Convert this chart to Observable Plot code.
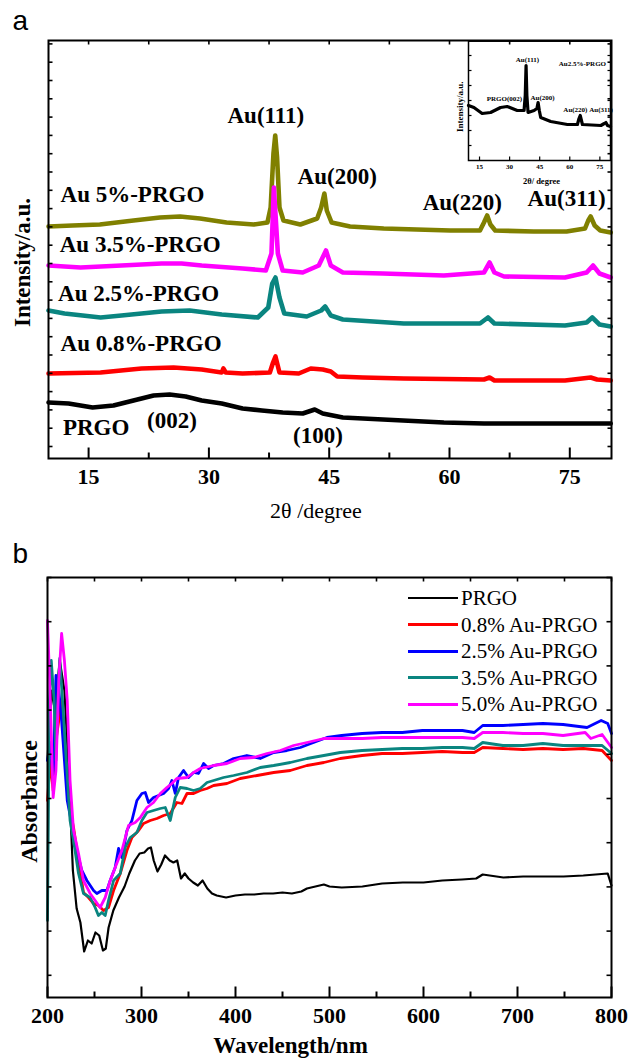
<!DOCTYPE html>
<html><head><meta charset="utf-8">
<script src="https://cdn.jsdelivr.net/npm/d3@7"></script>
<script src="https://cdn.jsdelivr.net/npm/@observablehq/plot@0.6"></script>
<style>
body{margin:0;background:#fff;}
#wrap{position:relative;width:630px;height:1059px;overflow:hidden;background:#fff;}
.pane{position:absolute;}
.lg{position:absolute;left:408px;height:26px;line-height:26px;display:flex;align-items:center;font-family:"Liberation Serif","Times New Roman",serif;font-size:21px;color:#000;white-space:nowrap;}
.lg span.sw{display:inline-block;width:50px;height:0;margin-right:3px;}
</style></head><body><div id="wrap"></div>
<script>
// ---------- Panel a: XRD (2θ in degrees, intensity in a.u.) ----------
const xrdSeries = ["Au 5%-PRGO","Au 3.5%-PRGO","Au 2.5%-PRGO","Au 0.8%-PRGO","PRGO"];
const xrdColors = ["#808000","#ff00ff","#0a8580","#ff0000","#000000"];
const xrd5 = [[10,232],[13,233],[16.4,234],[20.6,238],[23.9,241],[26.4,242],[28.9,240],[32.2,236],[35.6,234],[37.3,236],[37.7,251],[38.05,305],[38.27,323],[38.5,301],[38.8,251],[39.3,238],[41.4,234],[43.5,240],[44.0,251],[44.4,265],[44.7,248],[45.3,236],[47.6,232],[51.8,230],[55.9,229],[60.1,228],[63.8,228],[64.3,236],[64.7,243],[65.1,234],[65.7,228],[70.5,227],[74.6,227],[76.9,230],[77.3,238],[77.6,242],[78.1,233],[78.8,228],[80.1,226]];
const xrd35 = [[10,193],[14,191],[19.1,193],[24.1,195],[26.6,195],[29.1,193],[34.2,190],[37.1,188],[37.8,205],[38.1,271],[38.6,205],[39.2,188],[41.7,186],[43.7,193],[44.6,208],[45.2,193],[46.7,186],[51.7,185],[59.3,183],[64.3,186],[65.0,196],[65.6,186],[66.8,182],[74.4,181],[77.1,186],[77.9,193],[78.7,185],[80.1,181]];
const xrd25 = [[10,148],[12,145],[16.5,141],[19.1,143],[24.1,147],[27.6,148],[31.6,144],[36.1,141],[37.4,151],[37.9,175],[38.3,181],[38.8,161],[39.4,145],[42.2,142],[44.0,148],[44.5,152],[45.2,143],[46.7,139],[54.3,135],[63.8,135],[64.8,141],[65.6,135],[74.4,133],[77.1,136],[77.8,141],[78.7,134],[80.1,132]];
const xrd08 = [[10,85],[16.5,86],[21.6,90],[25.6,91],[29.1,89],[31.6,86],[31.8,90],[32.1,86],[34.2,85],[37.6,86],[38.0,96],[38.3,102],[38.8,86],[41.2,85],[42.7,90],[44.2,89],[45.2,87],[46.0,82],[49.2,81],[54.3,80],[64.3,79],[65.0,81],[65.6,78],[74.4,78],[77.6,81],[78.4,79],[80.1,78]];
const xrdPRGO = [[10,56],[12.5,55],[15.5,51],[18.1,53],[20.6,58],[23.1,63],[25.1,64],[27.1,62],[29.1,58],[31.6,55],[34.2,50],[36.6,48],[39.2,46],[41.7,45],[43.2,49],[44.2,45],[46.7,41],[49.2,40],[54.2,38],[59.3,36],[64.3,35],[69.3,35],[74.4,35],[80.1,35]];
const xrdTicks = [15,30,45,60,75];
const xrdMinor = [22.5,37.5,52.5,67.5];
const peakLabels = [
  {text:"Au(111)", t:37.1, i:343},
  {text:"Au(200)", t:46.0, i:282},
  {text:"Au(220)", t:61.6, i:256},
  {text:"Au(311)", t:74.6, i:260},
  {text:"(002)", t:25.4, i:38},
  {text:"(100)", t:43.6, i:23}
];
const sampleLabels = [
  {text:"Au 5%-PRGO", t:11.5, i:264},
  {text:"Au 3.5%-PRGO", t:11.4, i:214},
  {text:"Au 2.5%-PRGO", t:11.2, i:165},
  {text:"Au 0.8%-PRGO", t:11.5, i:115},
  {text:"PRGO", t:11.8, i:31}
];
// inset: Au 2.5%-PRGO
const insetTrace = [[9.5,55],[12.2,53],[16.3,47],[20.5,48],[25.5,53],[28.8,54],[33.8,50],[37.2,50],[37.8,65],[38.2,95],[38.6,65],[39.2,48],[42.2,50],[43.6,52],[44.2,58],[44.8,50],[45.5,43],[50.5,39],[58.8,36],[63.8,36],[64.6,42],[65.2,45],[66.3,36],[75.5,35],[77.2,37],[78.0,38],[78.8,35],[80.3,34]];
const insetLabels = [
  {text:"Au(111)", t:38.9, i:101},
  {text:"Au2.5%-PRGO", t:66.3, i:97},
  {text:"PRGO(002)", t:27.4, i:62},
  {text:"Au(200)", t:46.4, i:63},
  {text:"Au(220)", t:62.8, i:51},
  {text:"Au(311)", t:75.6, i:51}
];

// ---------- Panel b: UV-vis (wavelength nm, absorbance a.u.) ----------
const uvNames = ["PRGO","0.8% Au-PRGO","2.5% Au-PRGO","3.5% Au-PRGO","5.0% Au-PRGO"];
const uvColors = ["#000000","#ff0000","#0000ff","#0a8580","#ff00ff"];
const uvPRGO = [[200,237],[204,307],[208,287],[213,337],[218,307],[223,217],[227,127],[231,89],[235,75],[239,46],[243,57],[247,54],[251,65],[255,62],[259,47],[262,49],[265,70],[270,87],[276,100],[282,111],[287,124],[293,137],[298,144],[303,145],[307,149],[310,150],[313,137],[317,126],[321,133],[325,142],[330,137],[334,135],[338,137],[342,119],[346,124],[350,119],[355,115],[360,112],[365,117],[370,109],[375,104],[380,102],[390,100],[400,102],[410,103],[420,103],[430,104],[440,104],[450,105],[460,104],[470,106],[476,109],[485,111],[494,113],[500,111],[513,110],[535,111],[556,114],[578,115],[600,115],[620,117],[641,118],[656,119],[663,123],[685,120],[706,121],[727,121],[749,121],[770,122],[796,124],[800,112]];
const uv08 = [[200,197],[203,237],[206,207],[209,257],[212,277],[215,297],[218,257],[222,197],[227.7,170],[233,137],[238.3,105],[243.6,100],[249,94],[254.2,92],[259.6,87],[264.9,90],[270.3,107],[277.4,124],[284.5,147],[289.8,160],[296.9,167],[302.2,174],[309.3,177],[316.4,179],[323.5,182],[330.6,184],[337.6,195],[343,194],[348.4,204],[355.4,204],[362.5,207],[369.7,209],[376.7,212],[390.9,214],[405,219],[423,222],[440.6,225],[458.3,227],[476,232],[494,235],[511.5,239],[534.7,242],[556,244],[577.5,244],[598.8,245],[620,246],[641.5,245],[654,245],[663,250],[684.4,249],[706,248],[727,249],[748.5,248],[770,249],[790,247],[800,237]];
const uv25 = [[200,237],[203,255],[206,217],[209,322],[212,307],[215,277],[218,237],[221,197],[227.7,164],[231.2,147],[236.5,127],[241.9,117],[249,107],[252.5,104],[257.8,107],[263.2,107],[266.7,117],[272,130],[275.6,149],[279.1,140],[284.5,167],[289.8,177],[295.1,197],[300.4,204],[304,205],[307.5,195],[312.8,200],[318.2,202],[323.5,204],[328.8,209],[332.3,217],[335.9,204],[339.4,220],[344.7,227],[350,220],[355.4,225],[360.7,224],[366,234],[371.3,229],[376.7,232],[387.3,234],[398,239],[412.1,242],[426.3,239],[440.6,245],[454.7,247],[469,250],[483,255],[497.3,260],[513,262],[534.7,264],[556,265],[577.5,265],[598.8,267],[620,267],[641.5,267],[654,265],[663,272],[684.4,272],[706,273],[727,274],[748.5,273],[774,270],[789,277],[796,274],[800,264]];
const uv35 = [[200,77],[202,297],[204,337],[207,297],[209,237],[211,297],[213,339],[216,297],[220,237],[224,177],[227.7,157],[233,124],[238.3,104],[245.4,100],[250.7,90],[254.2,82],[257.8,85],[261.4,82],[264.9,97],[270.3,117],[277.4,124],[282.7,150],[288,160],[295.1,165],[300.4,177],[305.8,185],[312.8,187],[320,189],[325.3,190],[330.6,177],[335.9,200],[341.2,210],[348.4,209],[355.4,207],[362.5,209],[369.7,215],[376.7,217],[387.3,220],[398,222],[412.1,225],[426.3,230],[440.6,232],[458.3,235],[476,239],[494,242],[511.5,245],[534.7,247],[556,248],[577.5,249],[598.8,249],[620,250],[641.5,250],[654,249],[663,255],[684.4,252],[706,252],[727,254],[748.5,252],[770,252],[790,252],[800,244]];
const uv50 = [[200,377],[203,297],[206,200],[209,227],[212,317],[215,364],[218,337],[221,297],[224,217],[227.7,167],[233,144],[238.3,117],[245.4,104],[250.7,97],[256,90],[261.4,100],[266.7,117],[272,130],[279.1,147],[286.2,172],[293.3,175],[298.7,180],[305.8,190],[312.8,195],[320,204],[327,210],[332.3,214],[337.6,219],[348.4,220],[355.4,225],[362.5,229],[376.7,232],[390.9,234],[405,239],[419.3,240],[433.5,244],[447.7,247],[461.8,252],[476,255],[494,259],[513,259],[534.7,259],[556,260],[577.5,260],[598.8,260],[620,260],[641.5,260],[654,259],[663,265],[684.4,265],[706,264],[727,264],[748.5,262],[772,265],[778,259],[790,263],[800,250]];
const uvTicks = [200,300,400,500,600,700,800];
const uvMinor = [250,350,450,550,650,750];

// ---------- helpers ----------
const serif = '"Liberation Serif","Times New Roman",serif';
const sans = '"Liberation Sans",Arial,sans-serif';
const tickShape = (ux, uy) => ({draw(ctx, size){const l = Math.sqrt(size/Math.PI); ctx.moveTo(0,0); ctx.lineTo(ux*l, uy*l);}});
const UP = tickShape(0,-1), DOWN = tickShape(0,1), RIGHT = tickShape(1,0), LEFT = tickShape(-1,0);
const tk = (data, x, y, shape, len, sw=1.6) => Plot.dot(data, {x, y, symbol: shape, r: len, stroke:"black", fill:"none", strokeWidth: sw});
const rowsOf = (arrs, names) => arrs.flatMap((a,k) => a.map(([x,y]) => ({s:names[k], x, y})));

const wrap = document.getElementById("wrap");
function place(node, left, top){ const d = document.createElement("div"); d.className="pane"; d.style.left=left+"px"; d.style.top=top+"px"; d.appendChild(node); wrap.appendChild(d); }

// ---------- Plot A ----------
const xA = [10, 80.2], yA = [0, 418];
const xrdRows = rowsOf([xrd5, xrd35, xrd25, xrd08, xrdPRGO], xrdSeries);
const plotA = Plot.plot({
  width: 630, height: 530,
  marginLeft: 48, marginRight: 19, marginTop: 40, marginBottom: 72,
  style: {background:"transparent", fontFamily: serif, overflow:"visible"},
  x: {domain: xA},
  y: {domain: yA, axis: null},
  color: {domain: xrdSeries, range: xrdColors},
  marks: [
    ...xrdSeries.map(s => Plot.line(xrdRows.filter(d => d.s === s), {x:"x", y:"y", stroke:"s", strokeWidth: 4.6, strokeLinejoin:"round"})),
    Plot.frame({stroke:"black", strokeWidth: 2}),
    tk(xrdTicks, d=>d, ()=>yA[0], UP, 11, 2),
    tk(xrdMinor, d=>d, ()=>yA[0], UP, 6, 2),
    tk(xrdTicks.concat(xrdMinor), d=>d, ()=>yA[1], DOWN, 4),
    tk(d3.range(12, 418, 18.3), ()=>xA[0], d=>d, RIGHT, 4),
    tk(d3.range(12, 418, 18.3), ()=>xA[1], d=>d, LEFT, 4),
    Plot.axisX({ticks: xrdTicks, tickSize: 0, tickPadding: 10, label: null, fontSize: 22, fontWeight: "bold", fontFamily: serif, tickFormat: d => String(d)}),
    Plot.text(peakLabels, {x:"t", y:"i", text:"text", fontSize: 23, fontWeight:"bold", fontFamily: serif, lineAnchor:"middle"}),
    Plot.text(sampleLabels, {x:"t", y:"i", text:"text", textAnchor:"start", fontSize: 23, fontWeight:"bold", fontFamily: serif, lineAnchor:"middle"}),
    Plot.text(["2θ /degree"], {frameAnchor:"bottom", dx:-14, dy:52, textAnchor:"middle", lineAnchor:"middle", fontSize: 22, fontFamily: serif}),
    Plot.text(["Intensity/a.u."], {frameAnchor:"left", dx:-26, dy:13, rotate:-90, textAnchor:"middle", lineAnchor:"middle", fontSize: 23, fontWeight:"bold", fontFamily: serif}),
    Plot.text(["a"], {frameAnchor:"top-left", dx:-36, dy:-19, textAnchor:"start", lineAnchor:"middle", fontSize: 28, fontFamily: sans})
  ]
});
place(plotA, 0, 0);

// ---------- Inset ----------
const xI = [9.5, 80.3], yI = [0, 119.3];
const plotI = Plot.plot({
  width: 190, height: 170,
  marginLeft: 28, marginRight: 20, marginTop: 10.7, marginBottom: 40,
  style: {background:"transparent", fontFamily: serif, overflow:"visible"},
  x: {domain: xI},
  y: {domain: yI, axis: null},
  marks: [
    Plot.line(insetTrace, {x: d=>d[0], y: d=>d[1], stroke:"black", strokeWidth: 3.2, strokeLinejoin:"round"}),
    Plot.frame({stroke:"black", strokeWidth: 1.5}),
    tk(xrdTicks, d=>d, ()=>yI[0], UP, 4, 1.2),
    tk(d3.range(15, 119, 15), ()=>xI[0], d=>d, RIGHT, 3, 1.2),
    tk(d3.range(15, 119, 15), ()=>xI[1], d=>d, LEFT, 3, 1.2),
    Plot.axisX({ticks: xrdTicks, tickSize: 0, tickPadding: 4, label: null, fontSize: 7, fontWeight: "bold", fontFamily: serif, tickFormat: d => String(d)}),
    Plot.text(insetLabels, {x:"t", y:"i", text:"text", fontSize: 7, fontWeight:"bold", fontFamily: serif, lineAnchor:"middle"}),
    Plot.text(["2θ/ degree"], {frameAnchor:"bottom", dx:2, dy:21, textAnchor:"middle", lineAnchor:"middle", fontSize: 8.5, fontWeight:"bold", fontFamily: serif}),
    Plot.text(["Intensity/a.u."], {frameAnchor:"left", dx:-8, dy:6, rotate:-90, textAnchor:"middle", lineAnchor:"middle", fontSize: 9, fontWeight:"bold", fontFamily: serif})
  ]
});
place(plotI, 440, 30);

// ---------- Plot B ----------
const xB = [200, 800], yB = [0, 420];
const uvRows = rowsOf([uvPRGO, uv08, uv25, uv35, uv50], uvNames);
const plotB = Plot.plot({
  width: 630, height: 529,
  marginLeft: 47, marginRight: 19, marginTop: 47, marginBottom: 62,
  style: {background:"transparent", fontFamily: serif, overflow:"visible"},
  x: {domain: xB},
  y: {domain: yB, axis: null},
  color: {domain: uvNames, range: uvColors},
  marks: [
    ...uvNames.map((s,k) => Plot.line(uvRows.filter(d => d.s === s), {x:"x", y:"y", stroke:"s", strokeWidth: k === 0 ? 2.2 : 2.8, strokeLinejoin:"round"})),
    Plot.frame({stroke:"black", strokeWidth: 2}),
    tk(uvTicks, d=>d, ()=>yB[0], UP, 11, 2),
    tk(uvMinor, d=>d, ()=>yB[0], UP, 6, 2),
    tk(uvTicks.concat(uvMinor), d=>d, ()=>yB[1], DOWN, 4),
    tk(d3.range(420, 0, -44.2), ()=>xB[0], d=>d, RIGHT, 4),
    tk(d3.range(420, 0, -44.2), ()=>xB[1], d=>d, LEFT, 5),
    Plot.axisX({ticks: uvTicks, tickSize: 0, tickPadding: 10, label: null, fontSize: 22, fontWeight: "bold", fontFamily: serif, tickFormat: d => String(d)}),
    Plot.text(["Wavelength/nm"], {frameAnchor:"bottom", dx:-39, dy:48.5, textAnchor:"middle", lineAnchor:"middle", fontSize: 23, fontWeight:"bold", fontFamily: serif}),
    Plot.text(["Absorbance"], {frameAnchor:"left", dx:-18, dy:14, rotate:-90, textAnchor:"middle", lineAnchor:"middle", fontSize: 24, fontWeight:"bold", fontFamily: serif}),
    Plot.text(["b"], {frameAnchor:"top-left", dx:-35, dy:-23, textAnchor:"start", lineAnchor:"middle", fontSize: 28, fontFamily: sans})
  ]
});
place(plotB, 0, 530);

// ---------- Legend (panel b) ----------
uvNames.forEach((name, k) => {
  const row = document.createElement("div");
  row.className = "lg";
  row.style.top = (598 + k * 26.5 - 13) + "px";
  const sw = document.createElement("span");
  sw.className = "sw";
  sw.style.borderTop = (k === 0 ? 2.5 : 3) + "px solid " + uvColors[k];
  row.appendChild(sw);
  row.appendChild(document.createTextNode(name));
  wrap.appendChild(row);
});
</script></body></html>
